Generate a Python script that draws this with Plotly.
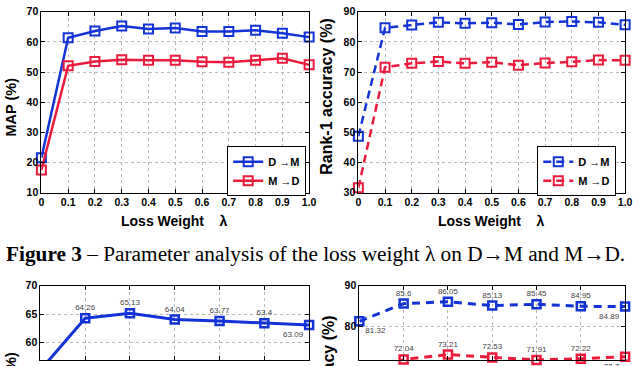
import plotly.graph_objects as go

# top row: loss weight lambda
lam = [0, 0.1, 0.2, 0.3, 0.4, 0.5, 0.6, 0.7, 0.8, 0.9, 1.0]
lam_labels = ["0", "0.1", "0.2", "0.3", "0.4", "0.5", "0.6", "0.7", "0.8", "0.9", "1.0"]
map_dm = [21.6, 61.4, 63.6, 65.3, 64.3, 64.6, 63.5, 63.5, 63.9, 62.9, 61.6]
map_md = [17.5, 52.1, 53.5, 54.1, 53.9, 53.9, 53.4, 53.3, 53.9, 54.6, 52.4]
rank1_dm = [48.7, 84.7, 85.6, 86.5, 86.2, 86.4, 85.8, 86.6, 86.8, 86.5, 85.7]
rank1_md = [31.6, 71.6, 72.9, 73.5, 72.9, 73.3, 72.3, 73.0, 73.4, 74.0, 73.9]

# bottom row (cut off in the page)
steps = [1, 2, 3, 4, 5, 6, 7]
map_b = [55.2, 64.26, 65.13, 64.04, 63.77, 63.4, 63.09]
rank1_b_dm = [81.32, 85.6, 86.05, 85.13, 85.45, 84.95, 84.89]
rank1_b_md = [66.8, 72.04, 73.21, 72.53, 71.91, 72.22, 72.7]

BLUE = "#1233d6"
RED = "#ec1a3d"
SANS = "Liberation Sans"

tick_font = dict(family=SANS, size=10.5, color="black", weight="bold")


def fmt(v):
    return ("%.2f" % v).rstrip("0").rstrip(".")


fig = go.Figure()

# top-left: MAP
fig.add_trace(go.Scatter(x=lam, y=map_dm, name="D \u2192M", mode="lines+markers",
                         line=dict(color=BLUE, width=2.5),
                         marker=dict(symbol="square-open", size=9, color=BLUE, line=dict(width=2)),
                         cliponaxis=False, xaxis="x", yaxis="y", legend="legend"))
fig.add_trace(go.Scatter(x=lam, y=map_md, name="M \u2192D", mode="lines+markers",
                         line=dict(color=RED, width=2.5),
                         marker=dict(symbol="square-open", size=9, color=RED, line=dict(width=2)),
                         cliponaxis=False, xaxis="x", yaxis="y", legend="legend"))

# top-right: Rank-1
fig.add_trace(go.Scatter(x=lam, y=rank1_dm, name="D \u2192M", mode="lines+markers",
                         line=dict(color=BLUE, width=2.5, dash="8px,5px"),
                         marker=dict(symbol="square-open", size=9, color=BLUE, line=dict(width=2)),
                         cliponaxis=False, xaxis="x2", yaxis="y2", legend="legend2"))
fig.add_trace(go.Scatter(x=lam, y=rank1_md, name="M \u2192D", mode="lines+markers",
                         line=dict(color=RED, width=2.5, dash="8px,5px"),
                         marker=dict(symbol="square-open", size=9, color=RED, line=dict(width=2)),
                         cliponaxis=False, xaxis="x2", yaxis="y2", legend="legend2"))

# bottom-left
pos_l = ["bottom center"] + ["top center"] * 5 + ["bottom left"]
fig.add_trace(go.Scatter(x=steps, y=map_b, mode="lines+markers+text",
                         text=[fmt(v) for v in map_b], textposition=pos_l,
                         textfont=dict(family=SANS, size=8, color="#444444"),
                         line=dict(color=BLUE, width=3),
                         marker=dict(symbol="square-open", size=8, color=BLUE, line=dict(width=2.5)),
                         cliponaxis=False, showlegend=False, xaxis="x3", yaxis="y3"))

# bottom-right
pos_b = ["bottom right"] + ["top center"] * 5 + ["bottom left"]
pos_r = ["bottom center"] + ["top center"] * 5 + ["bottom left"]
fig.add_trace(go.Scatter(x=steps, y=rank1_b_dm, mode="lines+markers+text",
                         text=[fmt(v) for v in rank1_b_dm], textposition=pos_b,
                         textfont=dict(family=SANS, size=8, color="#444444"),
                         line=dict(color=BLUE, width=3, dash="8px,6px"),
                         marker=dict(symbol="square-open", size=8, color=BLUE, line=dict(width=2.5)),
                         cliponaxis=False, showlegend=False, xaxis="x4", yaxis="y4"))
fig.add_trace(go.Scatter(x=steps, y=rank1_b_md, mode="lines+markers+text",
                         text=[fmt(v) for v in rank1_b_md], textposition=pos_r,
                         textfont=dict(family=SANS, size=8, color="#444444"),
                         line=dict(color=RED, width=3, dash="8px,6px"),
                         marker=dict(symbol="square-open", size=8, color=RED, line=dict(width=2.5)),
                         cliponaxis=False, showlegend=False, xaxis="x4", yaxis="y4"))

axis_common = dict(showline=True, linecolor="black", linewidth=1, mirror="ticks",
                   ticks="inside", ticklen=4, tickcolor="black",
                   showgrid=True, gridcolor="#b8b8b8", griddash="dot", gridwidth=1,
                   zeroline=False, tickfont=tick_font)

W, H = 640, 366


def xd(a, b):
    return [a / W, b / W]


def yd(top, bottom):
    return [1 - bottom / H, 1 - top / H]


legend_common = dict(bgcolor="white", bordercolor="black", borderwidth=1,
                     font=dict(family=SANS, size=11, color="black", weight="bold"),
                     itemwidth=30, tracegroupgap=0, xanchor="right", yanchor="top")

fig.update_layout(
    width=W, height=H,
    margin=dict(l=0, r=0, t=0, b=0),
    paper_bgcolor="white", plot_bgcolor="white",
    xaxis=dict(axis_common, domain=xd(39, 311), range=[0, 1], tickvals=lam, ticktext=lam_labels, anchor="y"),
    yaxis=dict(axis_common, domain=yd(6, 193), range=[10, 70], dtick=10, anchor="x"),
    xaxis2=dict(axis_common, domain=xd(361, 632), range=[0, 1], tickvals=lam, ticktext=lam_labels, anchor="y2"),
    yaxis2=dict(axis_common, domain=yd(6, 193), range=[30, 90], dtick=10, anchor="x2"),
    xaxis3=dict(axis_common, domain=xd(38, 311), range=[1, 7], tickvals=steps, showticklabels=False, anchor="y3"),
    yaxis3=dict(axis_common, domain=yd(289, 366), range=[56.95, 70], dtick=5, anchor="x3"),
    xaxis4=dict(axis_common, domain=xd(362, 632), range=[1, 7], tickvals=steps, showticklabels=False, anchor="y4"),
    yaxis4=dict(axis_common, domain=yd(289, 366), range=[71.9, 90], dtick=10, anchor="x4"),
    legend=dict(legend_common, x=308 / W, y=1 - 145 / H),
    legend2=dict(legend_common, x=623 / W, y=1 - 145 / H),
)

nb = "\u00a0"
annotations = [
    # axis titles, top row
    dict(text="MAP (%)", x=8 / W, y=1 - 104 / H, textangle=-90, size=14.5),
    dict(text="Rank-1 accuracy (%)", x=329 / W, y=1 - 93 / H, textangle=-90, size=16),
    dict(text="Loss Weight" + nb * 4 + "\u03bb", x=174 / W, y=1 - 222 / H, size=14),
    dict(text="Loss Weight" + nb * 4 + "\u03bb", x=496 / W, y=1 - 222 / H, size=14),
    # axis titles, bottom row (run off the page)
    dict(text="MAP (%)", x=8 / W, y=1 - 355 / H, textangle=-90, yanchor="top", size=14.5),
    dict(text="Rank-1 accuracy (%)", x=330 / W, y=1 - 317 / H, textangle=-90, yanchor="top", size=16),
]
for a in annotations:
    a.setdefault("yanchor", "middle")
    size = a.pop("size")
    fig.add_annotation(xref="paper", yref="paper", showarrow=False, xanchor="center",
                       font=dict(family=SANS, size=size, color="black", weight="bold"), **a)

fig.add_annotation(xref="paper", yref="paper", showarrow=False, x=317 / W, y=1 - 256 / H,
                   xanchor="center", yanchor="middle",
                   text="<b>Figure 3</b> \u2013 Parameter analysis of the loss weight \u03bb on D\u2192M and M\u2192D.",
                   font=dict(family="Liberation Serif", size=21.3, color="black"))

fig.write_html("out.html", config={"displayModeBar": False},
               post_script="document.body.style.margin='0px';")
